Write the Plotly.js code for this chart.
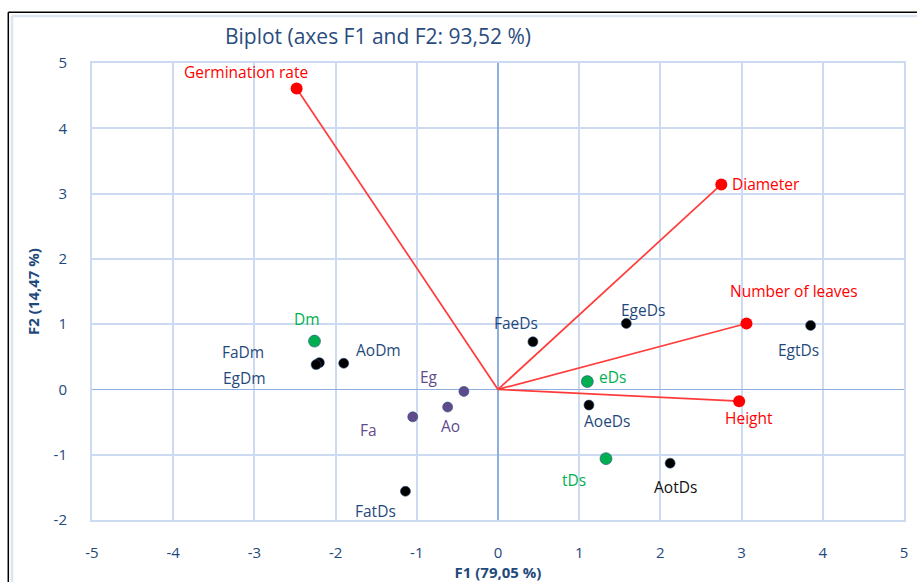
<!DOCTYPE html>
<html>
<head>
<meta charset="utf-8">
<script src="https://cdn.plot.ly/plotly-3.0.1.min.js"></script>
<style>html,body{margin:0;padding:0;background:#fff;}#chart{width:917px;height:582px;}</style>
</head>
<body>
<div id="chart"></div>
<script>
// Observations
const obsNames = ["FaeDs","EgeDs","EgtDs","AoeDs","AotDs","FatDs","FaDm","EgDm","AoDm","Dm","eDs","tDs","Eg","Ao","Fa"];
const obsX = [0.43, 1.58, 3.85, 1.12, 2.12, -1.14, -2.20, -2.24, -1.90, -2.26, 1.10, 1.33, -0.42, -0.62, -1.05];
const obsY = [0.73, 1.01, 0.98, -0.24, -1.13, -1.56, 0.41, 0.38, 0.40, 0.74, 0.12, -1.06, -0.03, -0.27, -0.42];
const obsGroup = ["obs","obs","obs","obs","obs","obs","obs","obs","obs","lvl","lvl","lvl","sp","sp","sp"];
// Variables
const varNames = ["Germination rate","Diameter","Number of leaves","Height"];
const varX = [-2.48, 2.75, 3.06, 2.97];
const varY = [4.61, 3.14, 1.01, -0.18];
// Axis ticks
const xTicks = [-5,-4,-3,-2,-1,0,1,2,3,4,5];
const xTickText = ["-5","-4","-3","-2","-1","0","1","2","3","4","5"];
const yTicks = [-2,-1,0,1,2,3,4,5];
const yTickText = ["-2","-1","0","1","2","3","4","5"];

// style: label offsets in pixels (dx right, dy down)
const obsOff = [[-17,-19],[17,-13],[-12,25],[18,16],[5,24],[-30,20],[-76,-11],[-72,13],[35,-13],[-7,-22],[25,-5],[-32,21],[-35,-14],[3,19],[-44,13]];
const varOff = [[-51,-16],[45,0],[48,-32],[10,17]];
const groupColor = {obs:"#000000", lvl:"#00B050", sp:"#5F4B8B"};
const groupText = {obs:"#1F497D", lvl:"#00B050", sp:"#5F4B8B"};
const groupSize = {obs:10, lvl:12, sp:10};

const FONT = "Open Sans, Noto Sans, sans-serif";
const traces = [];
// vectors
const lx = [], ly = [];
varX.forEach((v,i)=>{ lx.push(0, v, null); ly.push(0, varY[i], null); });
traces.push({x:lx, y:ly, mode:"lines", line:{color:"#FF3B3B", width:1.7}, hoverinfo:"skip", showlegend:false});
traces.push({x:varX, y:varY, mode:"markers", marker:{color:"#FF0000", size:12}, showlegend:false});
["obs","lvl","sp"].forEach(g=>{
  const xs=[], ys=[];
  obsNames.forEach((n,i)=>{ if(obsGroup[i]===g){ xs.push(obsX[i]); ys.push(obsY[i]); } });
  traces.push({x:xs, y:ys, mode:"markers", marker:{color:groupColor[g], size:groupSize[g], line:{color:"#2F4F7F", width:0.6}}, showlegend:false});
});

const annotations = [];
obsNames.forEach((n,i)=>{
  let col = groupText[obsGroup[i]];
  if (n === "AotDs") col = "#111111";
  annotations.push({x:obsX[i], y:obsY[i], xref:"x", yref:"y", text:n, showarrow:false,
    xshift:obsOff[i][0], yshift:-obsOff[i][1], font:{family:FONT, size:15.5, color:col}});
});
varNames.forEach((n,i)=>{
  annotations.push({x:varX[i], y:varY[i], xref:"x", yref:"y", text:n, showarrow:false,
    xshift:varOff[i][0], yshift:-varOff[i][1], font:{family:FONT, size:15.5, color:"#FF0000"}});
});

// frame shapes (paper coordinates)
const L=92, R=13, T=63, B=62, W=917, H=582;
const pw=W-L-R, ph=H-T-B;
const px = v => (v-L)/pw;
const py = v => (H-B-v)/ph;
const shapes = [
  {type:"line", xref:"paper", yref:"paper", x0:px(8.3), x1:px(8.3), y0:py(582), y1:py(12.3), line:{color:"#000", width:1.5}},
  {type:"line", xref:"paper", yref:"paper", x0:px(8.3), x1:px(917), y0:py(12.3), y1:py(12.3), line:{color:"#000", width:1.5}},
  {type:"line", xref:"paper", yref:"paper", x0:px(12), x1:px(12), y0:py(582), y1:py(16), line:{color:"#DCE6F2", width:2.5}},
  {type:"line", xref:"paper", yref:"paper", x0:px(12), x1:px(917), y0:py(16), y1:py(16), line:{color:"#DCE6F2", width:2.5}}
];

const axisCommon = {
  showgrid:true, gridcolor:"#CCDBF1", gridwidth:2,
  zeroline:true, zerolinecolor:"#8FAFDC", zerolinewidth:1.5,
  showline:true, linecolor:"#CCDBF1", linewidth:2, mirror:true,
  ticks:"", tickfont:{family:FONT, size:15, color:"#1F497D"}, fixedrange:true
};
const layout = {
  width:W, height:H,
  margin:{l:L, r:R, t:T, b:B},
  paper_bgcolor:"#fff", plot_bgcolor:"#fff",
  title:{text:"Biplot (axes F1 and F2: 93,52 %)", x:378/W, xanchor:"center", y:1-37/H, yanchor:"middle",
    font:{family:FONT, size:21, color:"#2A4C7D"}},
  xaxis:Object.assign({}, axisCommon, {range:[-5,5], tickvals:xTicks, ticktext:xTickText, ticklabelstandoff:18,
    title:{text:"<b>F1 (79,05 %)</b>", standoff:2, font:{family:FONT, size:15, color:"#1F497D"}}}),
  yaxis:Object.assign({}, axisCommon, {range:[-2,5], tickvals:yTicks, ticktext:yTickText, ticklabelstandoff:20,
    title:{text:"<b>F2 (14,47 %)</b>", standoff:10, font:{family:FONT, size:15, color:"#1F497D"}}}),
  annotations:annotations, shapes:shapes, showlegend:false, hovermode:false
};
Plotly.newPlot("chart", traces, layout, {displayModeBar:false, staticPlot:true});
</script>
</body>
</html>
